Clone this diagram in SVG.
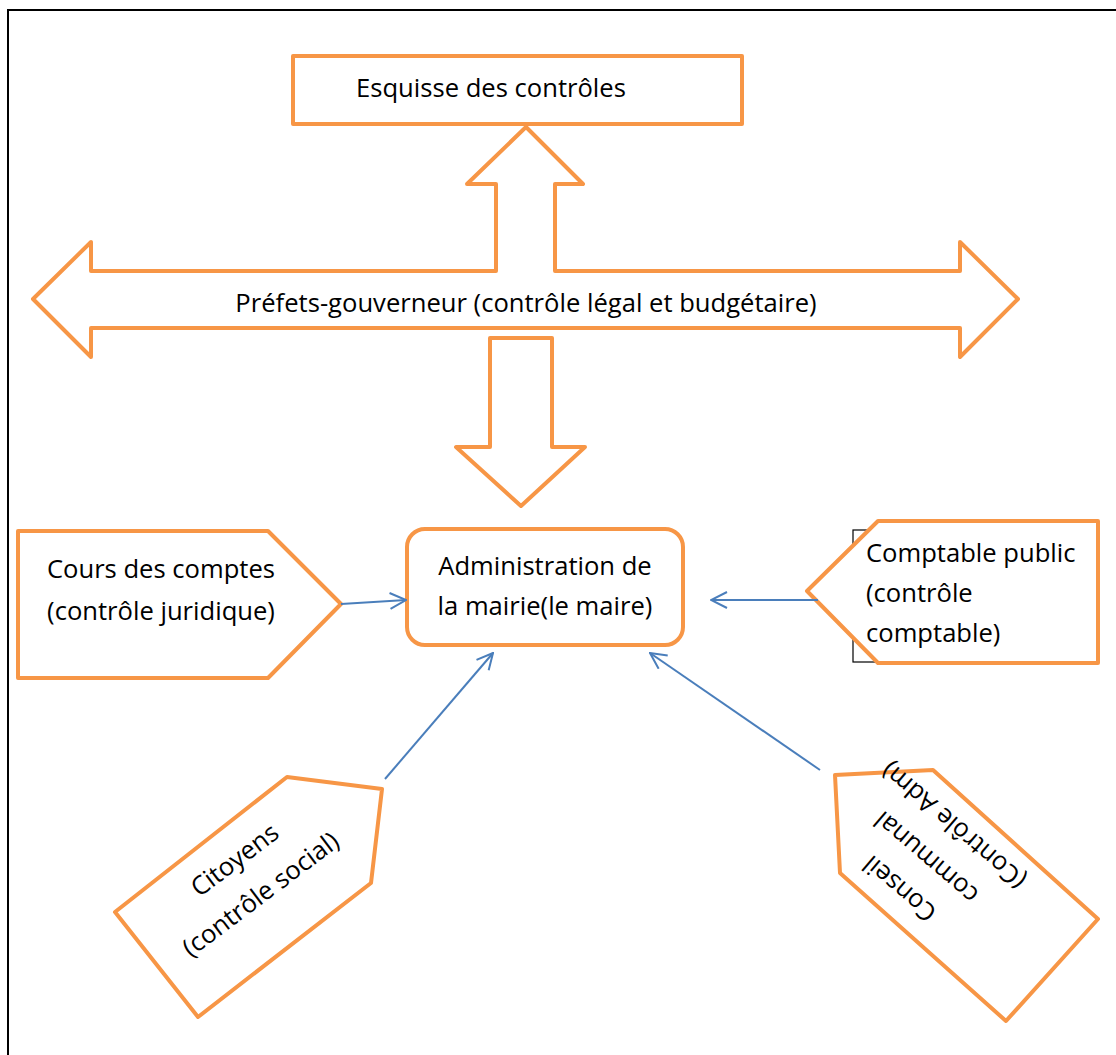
<svg xmlns="http://www.w3.org/2000/svg" width="1116" height="1055" viewBox="0 0 1116 1055">
  <style>
    .shape { fill: #ffffff; stroke: #F79646; stroke-width: 4; stroke-linejoin: round; }
    .lbl { font-family: "Open Sans", "Noto Sans", sans-serif; font-size: 25.6px; fill: #000000; }
    .mid { text-anchor: middle; }
    .link { fill: none; stroke: #4A7EBB; stroke-width: 2; }
  </style>
  <defs>
    <marker id="openHead" viewBox="0 0 18 18" refX="17" refY="9" markerWidth="18" markerHeight="18" markerUnits="userSpaceOnUse" orient="auto">
      <path d="M1,1 L17,9 L1,17" fill="none" stroke="#4A7EBB" stroke-width="2"/>
    </marker>
  </defs>

  <rect width="1116" height="1055" fill="#ffffff"/>
  <!-- page frame (left and top edges) -->
  <path d="M8,1055 L8,10 L1116,10" fill="none" stroke="#000000" stroke-width="2"/>

  <!-- title box -->
  <g id="esquisse">
    <rect class="shape" x="293" y="56" width="449" height="68"/>
    <text class="lbl" x="356" y="97">Esquisse des contrôles</text>
  </g>

  <!-- prefects: double horizontal arrow joined to the upward arrow -->
  <g id="prefets">
    <path class="shape" d="M33,299 L91,242 L91,271 L496,271 L496,184 L467,184 L526,127 L583,184 L555,184 L555,271 L960,271 L960,242 L1018,299 L960,357 L960,328 L91,328 L91,357 Z"/>
    <text class="lbl mid" x="526" y="312">Préfets-gouverneur (contrôle légal et budgétaire)</text>
  </g>

  <!-- downward block arrow -->
  <g id="fleche-bas">
    <path class="shape" d="M490,338 L552,338 L552,447 L585,447 L521,506 L456,447 L490,447 Z"/>
  </g>

  <!-- town hall -->
  <g id="mairie">
    <rect class="shape" x="407" y="529" width="276" height="116" rx="18" ry="18" stroke-width="4.5"/>
    <text class="lbl mid" x="545" y="575">Administration de</text>
    <text class="lbl mid" x="545" y="615">la mairie(le maire)</text>
  </g>

  <!-- court of auditors -->
  <g id="cours-comptes">
    <path class="shape" d="M18,531 L268,531 L341,604 L268,678 L18,678 Z"/>
    <text class="lbl mid" x="161" y="578">Cours des comptes</text>
    <text class="lbl mid" x="161" y="620">(contrôle juridique)</text>
  </g>

  <!-- public accountant -->
  <g id="comptable">
    <rect x="853" y="530" width="150" height="132" fill="none" stroke="#000000" stroke-width="1.2"/>
    <path class="shape" d="M878,521 L1098,521 L1098,663 L878,663 L807,591 Z"/>
    <text class="lbl" x="866" y="562">Comptable public</text>
    <text class="lbl" x="866" y="602">(contrôle</text>
    <text class="lbl" x="866" y="642">comptable)</text>
  </g>

  <!-- citizens -->
  <g id="citoyens">
    <path class="shape" d="M287,777 L382,789 L371,883 L198,1017 L115,912 Z"/>
    <g transform="translate(240,867) rotate(-37)">
      <text class="lbl mid" x="0" y="0">Citoyens</text>
      <text class="lbl mid" x="0" y="43">(contrôle social)</text>
    </g>
  </g>

  <!-- municipal council -->
  <g id="conseil">
    <path class="shape" d="M835,775 L933,770 L1098,919 L1006,1021 L840,873 Z"/>
    <g transform="translate(932,851) rotate(-139.5)">
      <text class="lbl mid" x="0" y="-41">Conseil</text>
      <text class="lbl mid" x="0" y="0">communal</text>
      <text class="lbl mid" x="0" y="42">(Contrôle Adm)</text>
    </g>
  </g>

  <!-- connectors -->
  <g id="connectors">
    <line class="link" x1="341" y1="604" x2="406" y2="600" marker-end="url(#openHead)"/>
    <line class="link" x1="818" y1="600" x2="711" y2="600" marker-end="url(#openHead)"/>
    <line class="link" x1="385" y1="779" x2="493" y2="653" marker-end="url(#openHead)"/>
    <line class="link" x1="820" y1="770" x2="650" y2="653" marker-end="url(#openHead)"/>
  </g>
</svg>
